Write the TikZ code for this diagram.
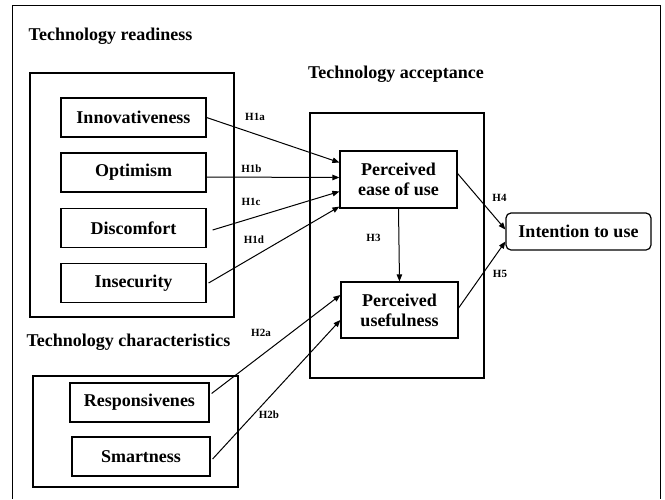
\documentclass[tikz,border=0pt]{standalone}
\usepackage{fontspec}
\setmainfont{Liberation Serif}
\usetikzlibrary{arrows.meta, positioning}

\begin{document}
\begin{tikzpicture}[
    x=1pt, y=-1pt,
    var/.style={draw, line width=1.2pt, minimum width=145pt, minimum height=39pt,
                inner sep=0pt, align=center, font=\fontsize{18}{20}\selectfont\bfseries},
    grp/.style={draw, line width=1.2pt},
    head/.style={font=\fontsize{18}{20}\selectfont\bfseries},
    hyp/.style={font=\fontsize{11}{12}\selectfont\bfseries},
    arr/.style={-{Triangle[length=7pt, width=5.5pt]}, line width=1pt}
]
\useasboundingbox (0,0) rectangle (665,499);

% ============================================================
% Outer frame (open at the bottom)
% ============================================================
\draw[line width=0.8pt] (12.5,499) -- (12.5,5) -- (660,5) -- (660,499);

% ============================================================
% TECHNOLOGY READINESS (left, top)
% ============================================================
\node[head] (trtitle) at (110.5, 36) {Technology readiness};
\draw[grp] (30, 73) rectangle (234, 317);

\node[var] (inno)  at (133.5, 117.5) {Innovativeness};
\node[var] (opti)  at (133.5, 172.5) {Optimism};
\node[var] (disc)  at (133.5, 228)   {Discomfort};
\node[var] (insec) at (133.5, 283)   {Insecurity};

% ============================================================
% TECHNOLOGY CHARACTERISTICS (left, bottom)
% ============================================================
\node[head] (tctitle) at (128.5, 342) {Technology characteristics};
\draw[grp] (33, 376) rectangle (238, 487);

\node[var, minimum width=139pt] (resp)  at (139.5, 402.5) {Responsivenes};
\node[var, minimum width=138pt] (smart) at (141, 456.5)   {Smartness};

% ============================================================
% TECHNOLOGY ACCEPTANCE (centre)
% ============================================================
\node[head] (tatitle) at (396, 74) {Technology acceptance};
\draw[grp] (310, 113) rectangle (484, 378);

\node[var, minimum width=117pt, minimum height=57pt] (peou) at (398.5, 179.5)
    {Perceived\\ease of use};
\node[var, minimum width=117pt, minimum height=56pt] (pu) at (399.5, 310)
    {Perceived\\usefulness};

% outcome
\node[var, rounded corners=5pt, minimum width=145pt, minimum height=37pt]
    (intent) at (578.5, 231.5) {Intention to use};

% ============================================================
% Hypotheses
% ============================================================
\draw[arr] (inno.east) -- ([yshift=17pt]peou.west);
\draw[arr] ([yshift=-4.5pt]opti.east) -- ([yshift=2pt]peou.west);
\draw[arr] ([xshift=6pt, yshift=-2pt]disc.east) -- ([yshift=-12pt]peou.west);
\draw[arr] ([xshift=2pt]insec.east) -- ([yshift=2pt]peou.south west);

\draw[arr] ([xshift=2pt, yshift=9pt]resp.east) -- ([yshift=15pt]pu.west);
\draw[arr] ([xshift=2pt, yshift=-2.5pt]smart.east) -- ([yshift=-10pt]pu.west);

\draw[arr] (peou.south) -- (pu.north);
\draw[arr] ([yshift=6pt]peou.east) -- ([yshift=2pt]intent.west);
\draw[arr] ([yshift=2pt]pu.east) -- ([yshift=-10pt]intent.west);

% labels
\node[hyp] (h1a) at (255, 117) {H1a};
\node[hyp] (h1b) at (251.5, 169) {H1b};
\node[hyp] (h1c) at (251, 202) {H1c};
\node[hyp] (h1d) at (254, 240) {H1d};
\node[hyp] (h2a) at (261, 333) {H2a};
\node[hyp] (h2b) at (269, 415) {H2b};
\node[hyp] (h3)  at (373.5, 238) {H3};
\node[hyp] (h4)  at (499.5, 198) {H4};
\node[hyp] (h5)  at (500, 274) {H5};

\end{tikzpicture}
\end{document}
